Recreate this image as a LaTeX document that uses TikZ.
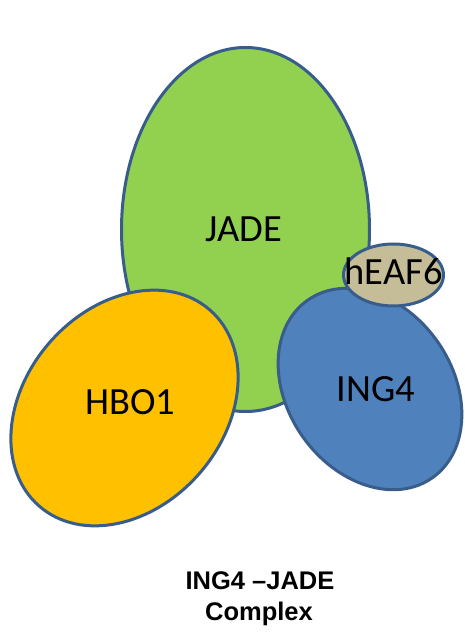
\documentclass[tikz,border=0pt]{standalone}
\usepackage{fontspec}
\setmainfont{Carlito}
\newfontfamily\titlefont{Liberation Sans}
\definecolor{outl}{RGB}{56,93,138}
\definecolor{jadegreen}{RGB}{146,208,80}
\definecolor{hboorange}{RGB}{255,192,0}
\definecolor{ingblue}{RGB}{79,129,189}
\definecolor{heaftan}{RGB}{196,189,151}
\tikzset{
  blob/.style={draw=outl, line width=3pt},
  lbl/.style={anchor=base, inner sep=0pt, font=\fontsize{38.5}{40}\selectfont, text=black},
  ttl/.style={anchor=base, inner sep=0pt, font=\titlefont\bfseries\fontsize{25.5}{30}\selectfont, text=black}
}
\begin{document}
\begin{tikzpicture}[x=1pt,y=1pt]
\useasboundingbox (0,0) rectangle (465,632);
\clip (0,0) rectangle (465,632);
\fill[white] (0,0) rectangle (465,632);
% shapes
\coordinate (cjade) at (245.5,402.5);
\coordinate (chbo) at (124.5,224);
\coordinate (cing) at (370,243);
\coordinate (cheaf) at (393.5,357);
\path[blob, fill=jadegreen] (cjade) ellipse [x radius=124pt, y radius=182pt];
\path[blob, fill=hboorange, rotate around={49:(chbo)}] (chbo) ellipse [x radius=130pt, y radius=99.5pt];
\path[blob, fill=ingblue, rotate around={-55:(cing)}] (cing) ellipse [x radius=108.5pt, y radius=82.5pt];
\path[blob, fill=heaftan] (cheaf) ellipse [x radius=50pt, y radius=31pt];
% labels
\node[lbl] (jade) at (244,390) {JADE};
\node[lbl] (hbo) at (130.5,217) {HBO1};
\node[lbl] (ing) at (376,230) {ING4};
\node[lbl] (heaf) at (393.5,347) {hEAF6};
\node[ttl] (title1) at (260,42) {ING4 –JADE};
\node[ttl] (title2) at (259,12) {Complex};
\end{tikzpicture}
\end{document}
